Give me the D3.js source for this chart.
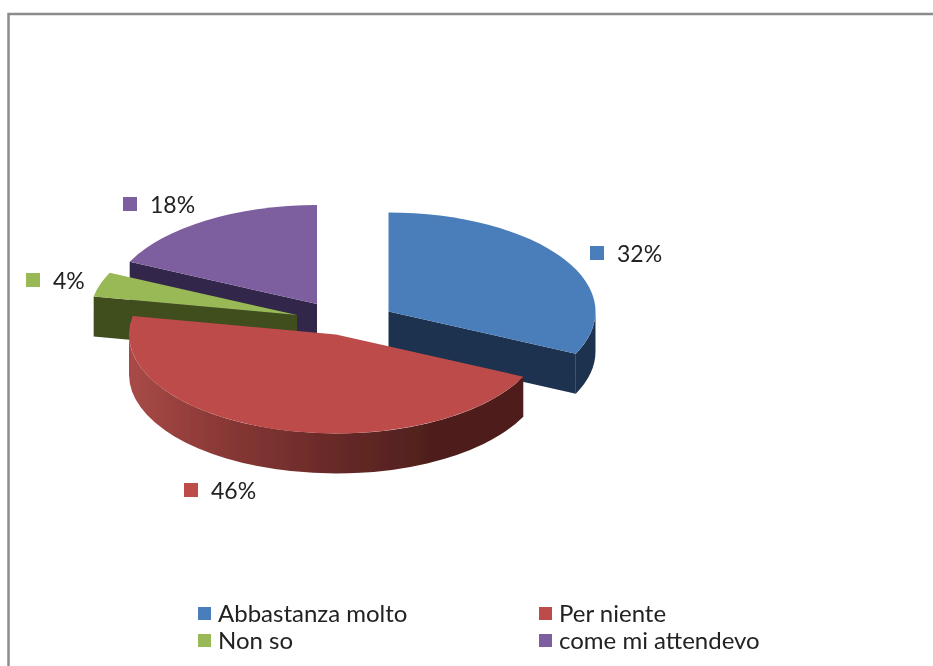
<!DOCTYPE html>
<html><head><meta charset="utf-8">
<script src="https://cdn.jsdelivr.net/npm/d3@7"></script>
<style>html,body{margin:0;padding:0;background:#fff;overflow:hidden}svg{display:block}</style>
</head><body><svg id="c" width="933" height="666"></svg>
<script>
const categories = ["Abbastanza molto", "Per niente", "Non so", "come mi attendevo"];
const values = [32, 46, 4, 18];
const topColors = ["#4a7ebb", "#bc4c49", "#98b954", "#7d5fa0"];
const sideColors = ["#1f324f", "#4f1f1d", "#3f4d1f", "#33274b"];

// layout, kept apart from the data
const centers = [[388.5, 311.5], [336, 334.5], [297, 315], [317, 304]];
const labelAnchors = [[590, 246], [184, 483], [26, 273], [123, 197]];
const legendPos = [[198, 607], [539, 607], [198, 634], [539, 634]];
const rx = 207, ry = 99, depth = 40;
const drawOrder = [3, 2, 0, 1];

const svg = d3.select("#c");
const font = "Lato, 'Open Sans', sans-serif";
const defs = svg.append("defs");
const blur = defs.append("filter").attr("id", "soft").attr("x", "-5%").attr("y", "-5%").attr("width", "110%").attr("height", "110%");
blur.append("feGaussianBlur").attr("stdDeviation", 0.7);

const grad = defs.append("linearGradient").attr("id", "redSide")
  .attr("gradientUnits", "userSpaceOnUse").attr("x1", 130).attr("x2", 430).attr("y1", 0).attr("y2", 0);
[[0, "#a84a47"], [0.35, "#853634"], [0.7, "#662927"], [1, "#4f1f1d"]].forEach(([o, c]) =>
  grad.append("stop").attr("offset", o).attr("stop-color", c));

const root = svg.append("g").attr("filter", "url(#soft)");

root.append("rect").attr("x", 8.5).attr("y", 14).attr("width", 1100).attr("height", 1100)
  .attr("fill", "#fff").attr("stroke", "#8c8c8c").attr("stroke-width", 2.5);

const slices = d3.pie().sort(null).value(d => d)(values);
const arc = d3.arc().innerRadius(0).outerRadius(rx);
const pt = (c, a) => [c[0] + rx * Math.sin(a), c[1] - ry * Math.cos(a)];

drawOrder.forEach(i => {
  const s = slices[i], c = centers[i];
  const g = root.append("g");
  // radial cut faces
  const face = a => {
    const p = pt(c, a);
    g.append("path")
      .attr("d", `M${c[0]},${c[1]}L${p[0]},${p[1]}L${p[0]},${p[1] + depth}L${c[0]},${c[1] + depth}Z`)
      .attr("fill", sideColors[i]);
  };
  if (s.startAngle > Math.PI) face(s.startAngle);
  if (s.endAngle < Math.PI) face(s.endAngle);
  // outer wall, only on the front half
  const a0 = Math.max(s.startAngle, Math.PI / 2), a1 = Math.min(s.endAngle, 3 * Math.PI / 2);
  if (a1 > a0) {
    const p0 = pt(c, a0), p1 = pt(c, a1);
    g.append("path")
      .attr("d", `M${p0[0]},${p0[1]}A${rx},${ry} 0 0 1 ${p1[0]},${p1[1]}L${p1[0]},${p1[1] + depth}A${rx},${ry} 0 0 0 ${p0[0]},${p0[1] + depth}Z`)
      .attr("fill", i === 1 ? "url(#redSide)" : sideColors[i]);
  }
  // top face
  g.append("path")
    .attr("transform", `translate(${c[0]},${c[1]}) scale(1,${ry / rx})`)
    .attr("d", arc(s))
    .attr("fill", topColors[i]);
});

// data labels with their colour keys
values.forEach((v, i) => {
  const [x, y] = labelAnchors[i];
  root.append("rect").attr("x", x).attr("y", y).attr("width", 14).attr("height", 14).attr("fill", topColors[i]);
  root.append("text").attr("x", x + 27).attr("y", y + 15.5)
    .attr("font-family", font).attr("font-size", 23).attr("fill", "#222")
    .text(v + "%");
});

// legend
categories.forEach((name, i) => {
  const [x, y] = legendPos[i];
  root.append("rect").attr("x", x).attr("y", y).attr("width", 13).attr("height", 13).attr("fill", topColors[i]);
  root.append("text").attr("x", x + 20).attr("y", y + 14.5)
    .attr("font-family", font).attr("font-size", 24).attr("fill", "#222")
    .text(name);
});
</script></body></html>
